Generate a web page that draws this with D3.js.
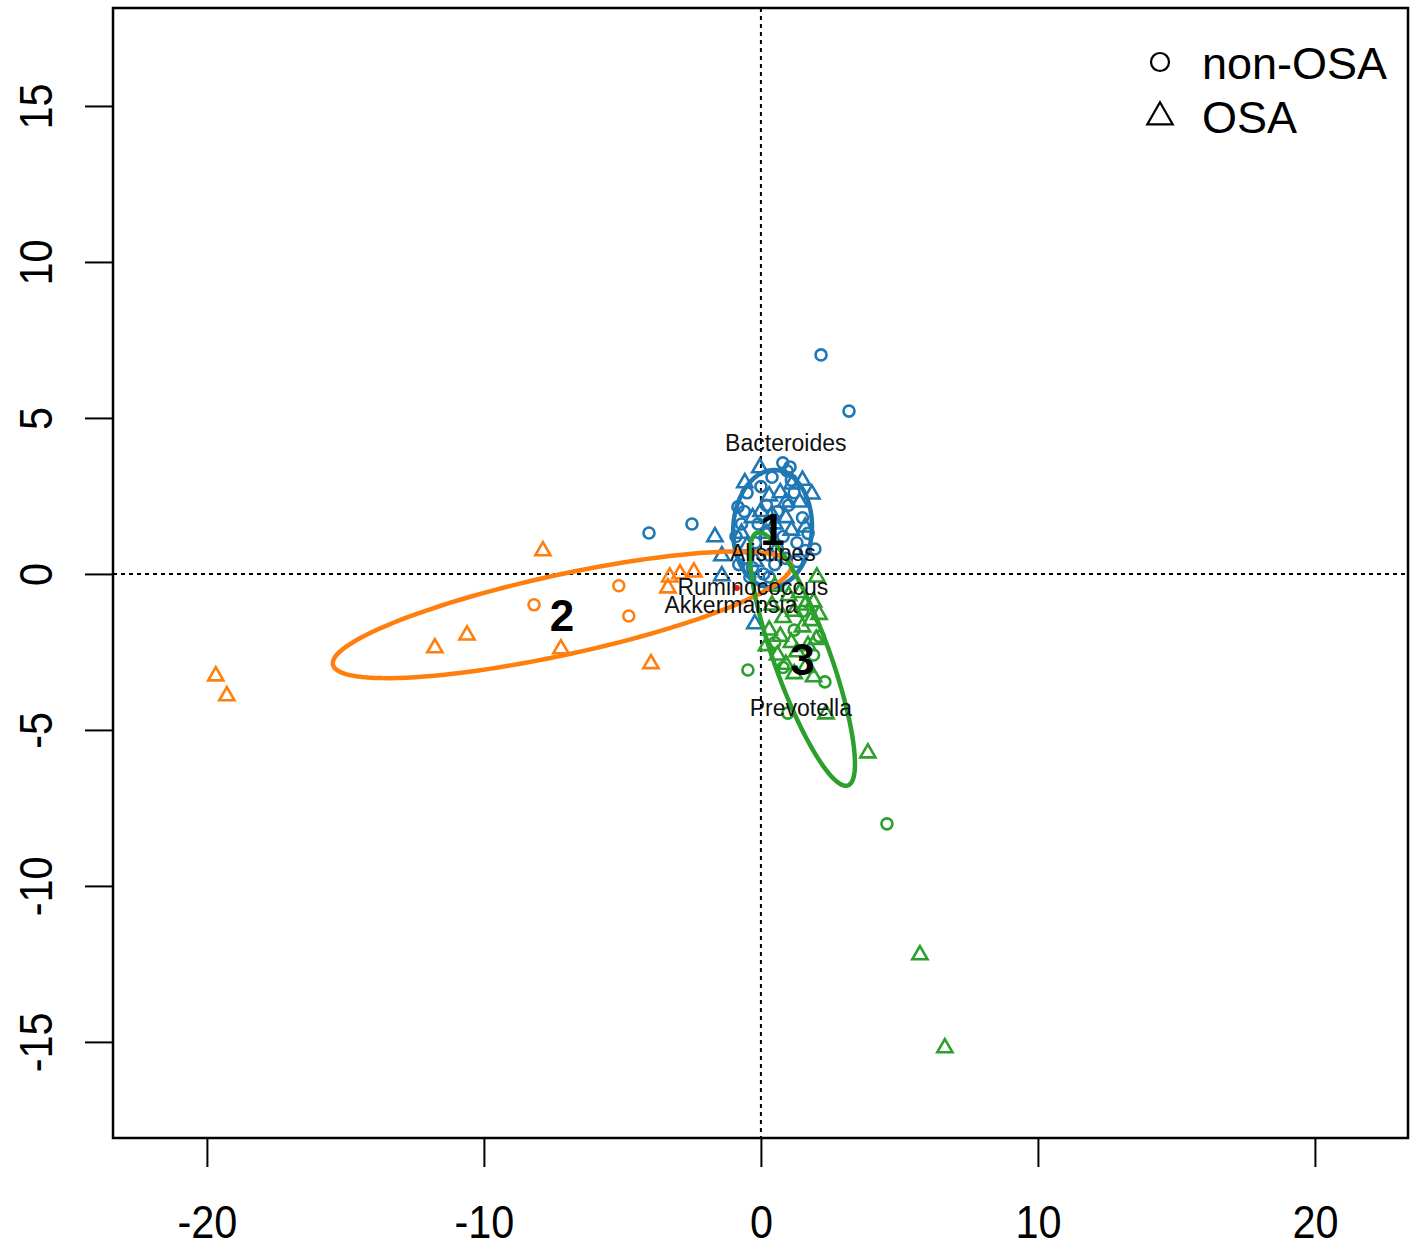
<!DOCTYPE html>
<html>
  <head>
    <meta charset="utf-8">
    <script src="https://cdn.jsdelivr.net/npm/d3@7"></script>
    <style>
      body { margin: 0; background: #fff; }
      text { font-family: "Liberation Sans", Arial, sans-serif; }
    </style>
  </head>
  <body>
    <div id="my_dataviz"></div>
  </body>

  <script>
    // cluster colours, in order 1, 2, 3
    let clusterColors = ["#1f77b4", "#ff7f0e", "#2ca02c"];
    let xTicks = [-20, -10, 0, 10, 20];
    let yTicks = [-15, -10, -5, 0, 5, 10, 15];

    // samples per cluster: [x, y]; circles = non-OSA, triangles = OSA
    let blueCircles = [[2.17,7.02],[3.18,5.22],[-4.04,1.31],[-2.49,1.60],[0.79,3.56],[1.05,3.43],[0.95,3.3],
      [-0.83,2.15],[1.95,0.80],[1.6,0.75],[-0.7,1.6],[-0.9,1.2],[-0.6,0.5],[-0.3,0.2],[0.1,0.0],[0.3,-0.1],
      [0.5,0.3],[0.9,0.5],[1.3,1.0],[1.5,1.8],[1.2,2.6],[0.2,2.2],[0.6,2.0],[-0.2,1.0],[0.0,2.8],[-0.5,2.6],
      [0.8,1.2],[1.0,2.2],[-0.4,-0.1],[0.6,0.8],[-0.8,0.3],[1.7,1.3],[0.4,3.1],[-0.1,1.6],[1.3,0.4],
      [-0.6,2.0],[0.3,0.6],[1.1,3.0]];
    let blueTriangles = [[-1.66,1.19],[-1.41,0.58],[-1.41,-0.06],[-0.22,-1.60],[-0.58,2.92],[-0.04,3.40],
      [1.84,2.56],[1.12,2.88],[0.3,2.5],[0.5,1.6],[-0.3,1.8],[1.4,2.3],[0.9,1.8],[0.2,1.3],[1.1,1.4],
      [-0.5,0.9],[0.7,2.6],[-0.2,0.4],[1.5,3.0],[0.9,2.3],[0.0,2.0],[1.6,1.5],[0.4,1.9],[-0.7,1.3]];
    let orangeCircles = [[-8.19,-0.99],[-5.13,-0.38],[-4.77,-1.35]];
    let orangeTriangles = [[-19.68,-3.27],[-19.28,-3.91],[-11.77,-2.37],[-10.61,-1.96],[-7.22,-2.40],
      [-7.87,0.74],[-3.97,-2.88],[-3.36,-0.45],[-3.29,-0.10],[-2.92,0.0],[-2.42,0.06]];
    let greenCircles = [[-0.47,-3.08],[4.55,-8.01],[2.31,-3.46],[0.97,-4.46],[0.5,-2.2],[1.2,-1.8],
      [1.9,-2.6],[0.8,-3.0],[1.5,-1.2],[2.1,-2.0]];
    let greenTriangles = [[3.86,-5.74],[5.74,-12.21],[6.64,-15.19],[2.35,-4.49],[2.02,-0.1],[0.9,-2.9],
      [1.9,-3.3],[0.4,-1.0],[0.8,-1.4],[1.2,-1.2],[1.6,-1.0],[1.9,-0.9],[0.3,-1.8],[0.7,-2.0],[1.1,-2.2],
      [1.5,-1.7],[1.8,-1.5],[2.1,-1.3],[0.6,-2.6],[1.3,-2.5],[1.7,-2.3],[2.0,-2.1],[1.0,-0.7],[0.5,-0.4],
      [1.4,-0.6],[1.6,-3.0],[1.2,-3.2],[0.2,-2.3]];

    // class ellipses: centre, semi-axis u and conjugate semi-axis v (data units)
    let ellipseLabels = ["1", "2", "3"];
    let ellipseCx = [0.42, -7.18, 1.50];
    let ellipseCy = [1.45, -1.31, -2.73];
    let ellipseU = [[0.10, 1.88], [-8.27, -1.60], [1.64, -4.05]];
    let ellipseV = [[1.42, -0.05], [0.31, -1.25], [0.95, 0.30]];

    // genus labels
    let genusNames = ["Bacteroides", "Alistipes", "Ruminococcus", "Akkermansia", "Prevotella"];
    let genusX = [0.90, 0.43, -0.29, -1.08, 1.44];
    let genusY = [4.20, 0.67, -0.42, -1.00, -4.30];

    let legendLabels = ["non-OSA", "OSA"];

    let W = 1419, H = 1246;
    let margin = {top: 8, right: 11, bottom: 108, left: 113},
        width = W - margin.left - margin.right,
        height = H - margin.top - margin.bottom;

    let svg = d3.select("#my_dataviz")
                .append("svg")
                  .attr("width", W)
                  .attr("height", H)
                .append("g")
                  .attr("transform", "translate(" + margin.left + "," + margin.top + ")");

    let x = d3.scaleLinear().domain([-23.39, 23.36]).range([0, width]);
    let y = d3.scaleLinear().domain([-18.08, 18.14]).range([height, 0]);

    let fmt = function(d) { return String(d) };

    // axes
    let xAxis = svg.append("g")
       .attr("transform", "translate(0," + height + ")")
       .call(d3.axisBottom(x).tickValues(xTicks).tickSize(29).tickPadding(38).tickFormat(fmt));
    let yAxis = svg.append("g")
       .call(d3.axisLeft(y).tickValues(yTicks).tickSize(28).tickFormat(fmt));
    [xAxis, yAxis].forEach(function(a) {
      a.select(".domain").remove();
      a.selectAll("line").attr("stroke", "#000").attr("stroke-width", 2);
      a.selectAll("text").attr("fill", "#000").style("font-size", "46px")
        .style("font-family", "'Liberation Sans', Arial, sans-serif");
    });
    xAxis.selectAll("text").attr("transform", "scale(0.9,1)");
    yAxis.selectAll("text")
      .attr("x", null).attr("dy", null)
      .attr("text-anchor", "middle")
      .attr("transform", "translate(-61,0) rotate(-90) scale(0.9,1)");

    // reference lines
    svg.append("line")
       .attr("x1", x(0)).attr("x2", x(0)).attr("y1", 0).attr("y2", height)
       .attr("stroke", "#000").attr("stroke-width", 2).attr("stroke-dasharray", "4,4");
    svg.append("line")
       .attr("x1", 0).attr("x2", width).attr("y1", y(0)).attr("y2", y(0))
       .attr("stroke", "#000").attr("stroke-width", 2).attr("stroke-dasharray", "4,4");

    // points
    let circleSets = [blueCircles, orangeCircles, greenCircles];
    let triangleSets = [blueTriangles, orangeTriangles, greenTriangles];
    let tri = d3.symbol().type(d3.symbolTriangle).size(100);

    for (let k = 0; k < 3; k++) {
      svg.append("g")
        .selectAll("circle")
        .data(circleSets[k])
        .enter()
        .append("circle")
          .attr("cx", function(d) { return x(d[0]) })
          .attr("cy", function(d) { return y(d[1]) })
          .attr("r", 5.5)
          .attr("fill", "none")
          .attr("stroke", clusterColors[k])
          .attr("stroke-width", 2.6);
      svg.append("g")
        .selectAll("path")
        .data(triangleSets[k])
        .enter()
        .append("path")
          .attr("d", tri)
          .attr("transform", function(d) { return "translate(" + x(d[0]) + "," + y(d[1]) + ")" })
          .attr("fill", "none")
          .attr("stroke", clusterColors[k])
          .attr("stroke-width", 2.6);
    }

    // ellipses
    let ts = d3.range(0, 120).map(function(i) { return i / 120 * 2 * Math.PI; });
    let ellipseLine = d3.line().curve(d3.curveLinearClosed);
    for (let k = 0; k < 3; k++) {
      let pts = ts.map(function(t) {
        let ex = ellipseCx[k] + ellipseU[k][0] * Math.cos(t) + ellipseV[k][0] * Math.sin(t);
        let ey = ellipseCy[k] + ellipseU[k][1] * Math.cos(t) + ellipseV[k][1] * Math.sin(t);
        return [x(ex), y(ey)];
      });
      svg.append("path")
         .attr("d", ellipseLine(pts))
         .attr("fill", "none")
         .attr("stroke", clusterColors[k])
         .attr("stroke-width", 4.5);
    }

    // small red marker near the genus labels
    svg.append("circle")
       .attr("cx", x(-0.87)).attr("cy", y(-0.45)).attr("r", 3)
       .attr("fill", "#e41a1c");

    // genus labels
    svg.append("g")
      .selectAll("text")
      .data(genusNames)
      .enter()
      .append("text")
        .attr("x", function(d, i) { return x(genusX[i]) })
        .attr("y", function(d, i) { return y(genusY[i]) })
        .attr("dy", "0.35em")
        .attr("text-anchor", "middle")
        .style("font-size", "23px")
        .attr("fill", "#111")
        .text(function(d) { return d });

    // cluster labels
    svg.append("g")
      .selectAll("text")
      .data(ellipseLabels)
      .enter()
      .append("text")
        .attr("x", function(d, i) { return x(ellipseCx[i]) })
        .attr("y", function(d, i) { return y(ellipseCy[i]) })
        .attr("dy", "0.36em")
        .attr("text-anchor", "middle")
        .style("font-size", "44px")
        .style("font-weight", "bold")
        .text(function(d) { return d });

    // frame
    svg.append("rect")
       .attr("width", width).attr("height", height)
       .attr("fill", "none").attr("stroke", "#000").attr("stroke-width", 2.5);

    // legend
    let legend = svg.append("g").attr("transform", "translate(" + (1160 - margin.left) + "," + (62 - margin.top) + ")");
    legend.append("circle").attr("cx", 0).attr("cy", 0).attr("r", 9)
      .attr("fill", "none").attr("stroke", "#000").attr("stroke-width", 2.2);
    legend.append("path").attr("d", d3.symbol().type(d3.symbolTriangle).size(280))
      .attr("transform", "translate(0,55)")
      .attr("fill", "none").attr("stroke", "#000").attr("stroke-width", 2.2);
    legend.selectAll("text.lg")
      .data(legendLabels)
      .enter()
      .append("text")
        .attr("class", "lg")
        .attr("x", 42)
        .attr("y", function(d, i) { return i * 54 + 17 })
        .style("font-size", "45px")
        .text(function(d) { return d });
  </script>
</html>
